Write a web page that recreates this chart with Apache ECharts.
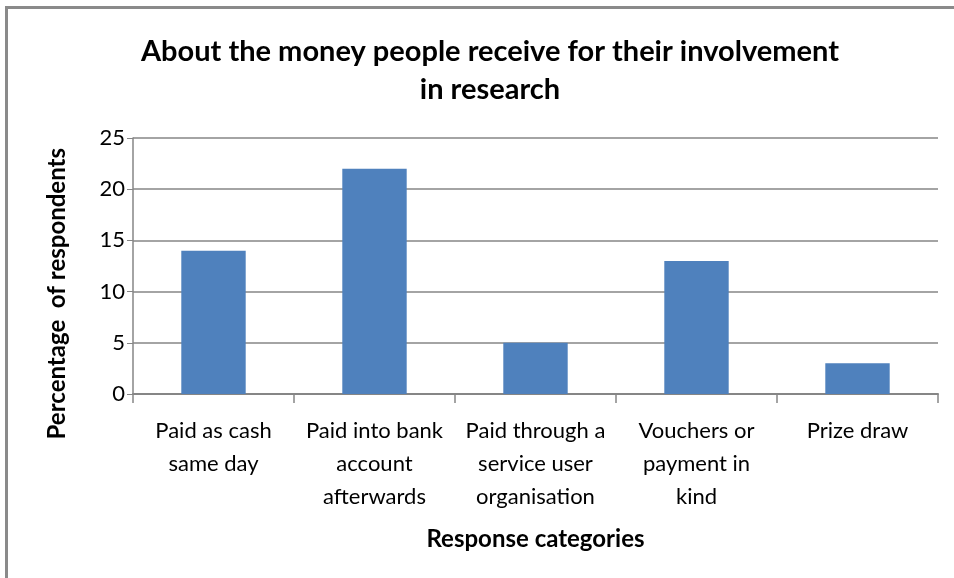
<!DOCTYPE html>
<html>
<head>
<meta charset="utf-8">
<script src="https://cdn.jsdelivr.net/npm/echarts@6/dist/echarts.min.js"></script>
<style>
html,body{margin:0;padding:0;background:#fff;}
#frame{position:absolute;left:5px;top:6px;width:949px;height:572px;border-left:3px solid #8a8a8a;border-top:3px solid #8a8a8a;box-sizing:border-box;}
#chart{position:absolute;left:0;top:0;width:954px;height:578px;}
</style>
</head>
<body>
<div id="frame"></div>
<div id="chart"></div>
<script>
var categories = ['Paid as cash\nsame day', 'Paid into bank\naccount\nafterwards', 'Paid through a\nservice user\norganisation', 'Vouchers or\npayment in\nkind', 'Prize draw'];
var values = [14, 22, 5, 13, 3];
var titleText = 'About the money people receive for their involvement\nin research';
var yName = 'Percentage  of respondents';
var xName = 'Response categories';

var font = 'Lato, "Open Sans", sans-serif';
var chart = echarts.init(document.getElementById('chart'));
chart.setOption({
  animation: false,
  title: {
    text: titleText,
    left: 485, top: 28, textAlign: 'center',
    textStyle: {fontFamily: font, fontSize: 29, fontWeight: 'bold', color: '#000', lineHeight: 38}
  },
  grid: {left: 133, right: 16, top: 138, bottom: 184},
  xAxis: {
    type: 'category',
    data: categories,
    name: xName,
    nameLocation: 'middle',
    nameGap: 133,
    nameTextStyle: {fontFamily: font, fontSize: 24, fontWeight: 'bold', color: '#000'},
    axisLine: {lineStyle: {color: '#868686', width: 2}},
    axisTick: {show: true, length: 9, lineStyle: {color: '#868686', width: 1.5}},
    axisLabel: {fontFamily: font, fontSize: 22, color: '#000', lineHeight: 33, margin: 20, interval: 0}
  },
  yAxis: {
    type: 'value', min: 0, max: 25, interval: 5,
    axisLine: {show: true, lineStyle: {color: '#868686', width: 1.5}},
    axisTick: {show: true, length: 6, lineStyle: {color: '#868686'}},
    axisLabel: {fontFamily: font, fontSize: 22, color: '#000', margin: 8},
    splitLine: {lineStyle: {color: '#868686', width: 1.5}}
  },
  graphic: [{
    type: 'text',
    left: 45, top: 148,
    rotation: Math.PI / 2,
    style: {text: yName, font: 'bold 24px ' + font, fill: '#000'}
  }],
  series: [{
    type: 'bar',
    data: values,
    barWidth: '40%',
    itemStyle: {color: '#4F81BD'}
  }]
});
</script>
</body>
</html>
